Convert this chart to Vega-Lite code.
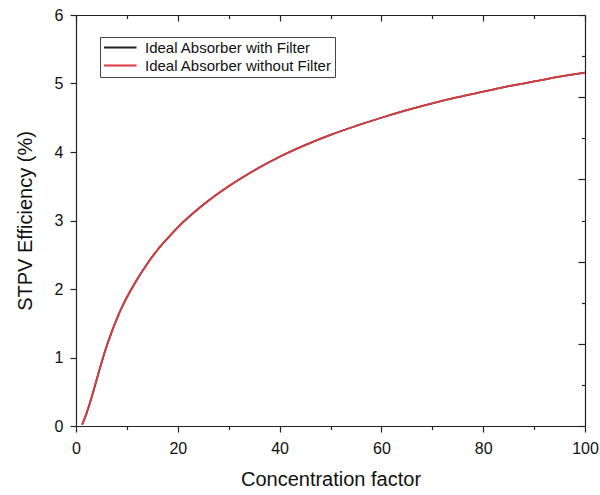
{
  "$schema": "https://vega.github.io/schema/vega-lite/v6.json",
  "width": 509,
  "height": 411,
  "autosize": {"type": "none"},
  "padding": {"left": 76, "top": 15, "right": 15, "bottom": 69},
  "background": "white",
  "config": {
    "view": {"stroke": null},
    "font": "Liberation Sans",
    "axis": {
      "domainColor": "#222",
      "domainWidth": 1.2,
      "tickColor": "#222",
      "tickWidth": 1.2,
      "labelColor": "#111",
      "titleColor": "#111",
      "labelFont": "Liberation Sans",
      "titleFont": "Liberation Sans",
      "labelFontSize": 16,
      "titleFontSize": 20,
      "titleFontWeight": "normal",
      "grid": false
    }
  },
  "datasets": {
    "curves": [
      {"series": "Ideal Absorber with Filter", "c": 1.2, "eff": 0.02},
      {"series": "Ideal Absorber with Filter", "c": 2, "eff": 0.17},
      {"series": "Ideal Absorber with Filter", "c": 3, "eff": 0.4},
      {"series": "Ideal Absorber with Filter", "c": 4, "eff": 0.66},
      {"series": "Ideal Absorber with Filter", "c": 5, "eff": 0.92},
      {"series": "Ideal Absorber with Filter", "c": 6, "eff": 1.16},
      {"series": "Ideal Absorber with Filter", "c": 7, "eff": 1.37},
      {"series": "Ideal Absorber with Filter", "c": 8, "eff": 1.56},
      {"series": "Ideal Absorber with Filter", "c": 9, "eff": 1.73},
      {"series": "Ideal Absorber with Filter", "c": 10, "eff": 1.88},
      {"series": "Ideal Absorber with Filter", "c": 12, "eff": 2.14},
      {"series": "Ideal Absorber with Filter", "c": 14, "eff": 2.37},
      {"series": "Ideal Absorber with Filter", "c": 16, "eff": 2.57},
      {"series": "Ideal Absorber with Filter", "c": 18, "eff": 2.74},
      {"series": "Ideal Absorber with Filter", "c": 20, "eff": 2.9},
      {"series": "Ideal Absorber with Filter", "c": 25, "eff": 3.23},
      {"series": "Ideal Absorber with Filter", "c": 30, "eff": 3.5},
      {"series": "Ideal Absorber with Filter", "c": 35, "eff": 3.73},
      {"series": "Ideal Absorber with Filter", "c": 40, "eff": 3.93},
      {"series": "Ideal Absorber with Filter", "c": 45, "eff": 4.1},
      {"series": "Ideal Absorber with Filter", "c": 50, "eff": 4.25},
      {"series": "Ideal Absorber with Filter", "c": 55, "eff": 4.38},
      {"series": "Ideal Absorber with Filter", "c": 60, "eff": 4.5},
      {"series": "Ideal Absorber with Filter", "c": 65, "eff": 4.61},
      {"series": "Ideal Absorber with Filter", "c": 70, "eff": 4.71},
      {"series": "Ideal Absorber with Filter", "c": 75, "eff": 4.8},
      {"series": "Ideal Absorber with Filter", "c": 80, "eff": 4.88},
      {"series": "Ideal Absorber with Filter", "c": 85, "eff": 4.96},
      {"series": "Ideal Absorber with Filter", "c": 90, "eff": 5.03},
      {"series": "Ideal Absorber with Filter", "c": 95, "eff": 5.1},
      {"series": "Ideal Absorber with Filter", "c": 100, "eff": 5.16},
      {"series": "Ideal Absorber without Filter", "c": 1.2, "eff": 0.02},
      {"series": "Ideal Absorber without Filter", "c": 2, "eff": 0.17},
      {"series": "Ideal Absorber without Filter", "c": 3, "eff": 0.4},
      {"series": "Ideal Absorber without Filter", "c": 4, "eff": 0.66},
      {"series": "Ideal Absorber without Filter", "c": 5, "eff": 0.92},
      {"series": "Ideal Absorber without Filter", "c": 6, "eff": 1.16},
      {"series": "Ideal Absorber without Filter", "c": 7, "eff": 1.37},
      {"series": "Ideal Absorber without Filter", "c": 8, "eff": 1.56},
      {"series": "Ideal Absorber without Filter", "c": 9, "eff": 1.73},
      {"series": "Ideal Absorber without Filter", "c": 10, "eff": 1.88},
      {"series": "Ideal Absorber without Filter", "c": 12, "eff": 2.14},
      {"series": "Ideal Absorber without Filter", "c": 14, "eff": 2.37},
      {"series": "Ideal Absorber without Filter", "c": 16, "eff": 2.57},
      {"series": "Ideal Absorber without Filter", "c": 18, "eff": 2.74},
      {"series": "Ideal Absorber without Filter", "c": 20, "eff": 2.9},
      {"series": "Ideal Absorber without Filter", "c": 25, "eff": 3.23},
      {"series": "Ideal Absorber without Filter", "c": 30, "eff": 3.5},
      {"series": "Ideal Absorber without Filter", "c": 35, "eff": 3.73},
      {"series": "Ideal Absorber without Filter", "c": 40, "eff": 3.93},
      {"series": "Ideal Absorber without Filter", "c": 45, "eff": 4.1},
      {"series": "Ideal Absorber without Filter", "c": 50, "eff": 4.25},
      {"series": "Ideal Absorber without Filter", "c": 55, "eff": 4.38},
      {"series": "Ideal Absorber without Filter", "c": 60, "eff": 4.5},
      {"series": "Ideal Absorber without Filter", "c": 65, "eff": 4.61},
      {"series": "Ideal Absorber without Filter", "c": 70, "eff": 4.71},
      {"series": "Ideal Absorber without Filter", "c": 75, "eff": 4.8},
      {"series": "Ideal Absorber without Filter", "c": 80, "eff": 4.88},
      {"series": "Ideal Absorber without Filter", "c": 85, "eff": 4.96},
      {"series": "Ideal Absorber without Filter", "c": 90, "eff": 5.03},
      {"series": "Ideal Absorber without Filter", "c": 95, "eff": 5.1},
      {"series": "Ideal Absorber without Filter", "c": 100, "eff": 5.16}
    ]
  },
  "data": {"name": "curves"},
  "resolve": {"axis": {"x": "independent", "y": "independent"}},
  "layer": [
    {
      "transform": [{"filter": "datum.series === 'Ideal Absorber with Filter'"}],
      "mark": {"type": "line", "strokeWidth": 1.8, "interpolate": "monotone"},
      "encoding": {
        "x": {
          "field": "c", "type": "quantitative",
          "scale": {"domain": [0, 100], "nice": false, "zero": false},
          "axis": {
            "orient": "bottom",
            "title": "Concentration factor",
            "values": [0, 10, 20, 30, 40, 50, 60, 70, 80, 90, 100],
            "format": "d",
            "labelExpr": "datum.value % 20 === 0 ? datum.label : ''",
            "tickSize": {"condition": {"test": "datum.value % 20 === 0", "value": 6}, "value": 3.5},
            "labelPadding": 8,
            "titlePadding": 13,
            "labelFlush": false,
            "labelOverlap": false
          }
        },
        "y": {
          "field": "eff", "type": "quantitative",
          "scale": {"domain": [0, 6], "nice": false},
          "axis": {
            "orient": "left",
            "title": "STPV Efficiency (%)",
            "values": [0, 0.5, 1, 1.5, 2, 2.5, 3, 3.5, 4, 4.5, 5, 5.5, 6],
            "format": "d",
            "labelExpr": "datum.value % 1 === 0 ? format(datum.value, 'd') : ''",
            "tickSize": {"condition": {"test": "datum.value % 1 === 0", "value": 6}, "value": 3.5},
            "labelPadding": 7,
            "titlePadding": 19,
            "labelFlush": false,
            "labelOverlap": false
          }
        },
        "color": {
          "field": "series", "type": "nominal",
          "scale": {
            "domain": ["Ideal Absorber with Filter", "Ideal Absorber without Filter"],
            "range": ["#222222", "#dc3c3f"]
          },
          "legend": {
            "title": null,
            "orient": "none",
            "legendX": 24,
            "legendY": 22,
            "symbolType": "M-1,0H4",
            "symbolSize": 169,
            "symbolStrokeWidth": 1.8,
            "labelFontSize": 15,
            "labelFont": "Liberation Sans",
            "labelColor": "#111",
            "labelLimit": 0,
            "labelOffset": 27,
            "rowPadding": 2,
            "padding": 3,
            "strokeColor": "#444",
            "fillColor": "white"
          }
        }
      }
    },
    {
      "transform": [{"filter": "datum.series === 'Ideal Absorber without Filter'"}],
      "mark": {"type": "line", "strokeWidth": 1.8, "interpolate": "monotone"},
      "encoding": {
        "x": {
          "field": "c", "type": "quantitative",
          "axis": {
            "orient": "top",
            "title": null,
            "labels": false,
            "values": [0, 10, 20, 30, 40, 50, 60, 70, 80, 90, 100],
            "tickSize": {"condition": {"test": "datum.value % 20 === 0", "value": -6}, "value": -3.5}
          }
        },
        "y": {
          "field": "eff", "type": "quantitative",
          "axis": {
            "orient": "right",
            "title": null,
            "labels": false,
            "values": [0, 0.6, 1.2, 1.8, 2.4, 3, 3.6, 4.2, 4.8, 5.4, 6],
            "tickSize": {"condition": {"test": "round(datum.value / 0.6) % 2 === 0", "value": -7}, "value": -3.5}
          }
        },
        "color": {"field": "series", "type": "nominal"}
      }
    }
  ]
}
